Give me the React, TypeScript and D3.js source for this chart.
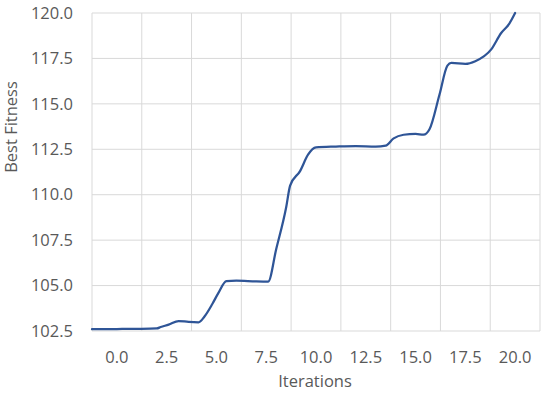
import React, { useEffect, useRef } from 'react';
import * as d3 from 'd3';

// iterations and best fitness
const iterations = [-1.25, 0, 1, 2, 2.2, 2.6, 3.1, 3.6, 4.1, 4.4, 4.8, 5.1, 5.5, 6, 7, 7.6, 8, 8.5, 8.7, 9.2, 9.6, 10, 11, 12, 13, 13.5, 13.9, 14.4, 15, 15.4, 15.7, 16.2, 16.6, 16.8, 17.5, 18, 18.8, 19.3, 19.7, 20];
const bestFitness = [102.6, 102.61, 102.62, 102.64, 102.72, 102.85, 103.05, 103.0, 102.98, 103.3, 104.0, 104.6, 105.25, 105.27, 105.23, 105.22, 107.0, 109.3, 110.5, 111.3, 112.2, 112.6, 112.65, 112.68, 112.65, 112.7, 113.1, 113.3, 113.35, 113.3, 113.6, 115.5, 117.1, 117.25, 117.2, 117.35, 118.0, 118.9, 119.4, 120.0];

const xTicks = [0, 2.5, 5, 7.5, 10, 12.5, 15, 17.5, 20];
const xGrid = [-1.25, 1.25, 3.75, 6.25, 8.75, 11.25, 13.75, 16.25, 18.75, 21.25];
const yTicks = [102.5, 105, 107.5, 110, 112.5, 115, 117.5, 120];

const App = () => {
  const svgRef = useRef<SVGSVGElement>(null);

  useEffect(() => {
    const svg = d3.select(svgRef.current);
    svg.selectAll('*').remove();

    const width = 550;
    const height = 396;
    const margin = { top: 13, right: 10, bottom: 65, left: 92 };
    const font = '"Open Sans", sans-serif';
    const textColor = '#595959';
    const fontSize = 16.5;

    const x = d3.scaleLinear().domain([-1.25, 21.25]).range([margin.left, width - margin.right]);
    const y = d3.scaleLinear().domain([102.5, 120]).range([height - margin.bottom, margin.top]);

    // grid
    svg.append('g').selectAll('line').data(xGrid).enter().append('line')
      .attr('x1', d => x(d)).attr('x2', d => x(d))
      .attr('y1', y(120)).attr('y2', y(102.5))
      .attr('stroke', '#d9d9d9').attr('stroke-width', 1);

    svg.append('g').selectAll('line').data(yTicks).enter().append('line')
      .attr('x1', x(-1.25)).attr('x2', x(21.25))
      .attr('y1', d => y(d)).attr('y2', d => y(d))
      .attr('stroke', '#d9d9d9').attr('stroke-width', 1);

    // tick labels
    svg.append('g').selectAll('text').data(yTicks).enter().append('text')
      .attr('x', 73).attr('y', d => y(d))
      .attr('dy', '0.35em')
      .attr('text-anchor', 'end')
      .style('font-family', font).attr('font-size', fontSize)
      .attr('fill', textColor)
      .text(d => d.toFixed(1));

    svg.append('g').selectAll('text').data(xTicks).enter().append('text')
      .attr('x', d => x(d)).attr('y', 357.5)
      .attr('dy', '0.35em')
      .attr('text-anchor', 'middle')
      .style('font-family', font).attr('font-size', fontSize)
      .attr('fill', textColor)
      .text(d => d.toFixed(1));

    // axis titles
    svg.append('text')
      .attr('x', 315).attr('y', 381.5)
      .attr('dy', '0.35em')
      .attr('text-anchor', 'middle')
      .style('font-family', font).attr('font-size', fontSize)
      .attr('fill', textColor)
      .text('Iterations');

    svg.append('text')
      .attr('transform', 'translate(11,127) rotate(-90)')
      .attr('dy', '0.35em')
      .attr('text-anchor', 'middle')
      .style('font-family', font).attr('font-size', fontSize)
      .attr('fill', textColor)
      .text('Best Fitness');

    // the line
    const line = d3.line<number>()
      .x((d, i) => x(iterations[i]))
      .y(d => y(d))
      .curve(d3.curveMonotoneX);

    svg.append('path')
      .datum(bestFitness)
      .attr('d', line)
      .attr('fill', 'none')
      .attr('stroke', '#2f5597')
      .attr('stroke-width', 2.25)
      .attr('stroke-linejoin', 'round')
      .attr('stroke-linecap', 'round');
  }, []);

  return (
    <svg ref={svgRef} width={550} height={396}
      style={{ position: 'absolute', left: 0, top: 0, background: '#fff' }} />
  );
};

export default App;
